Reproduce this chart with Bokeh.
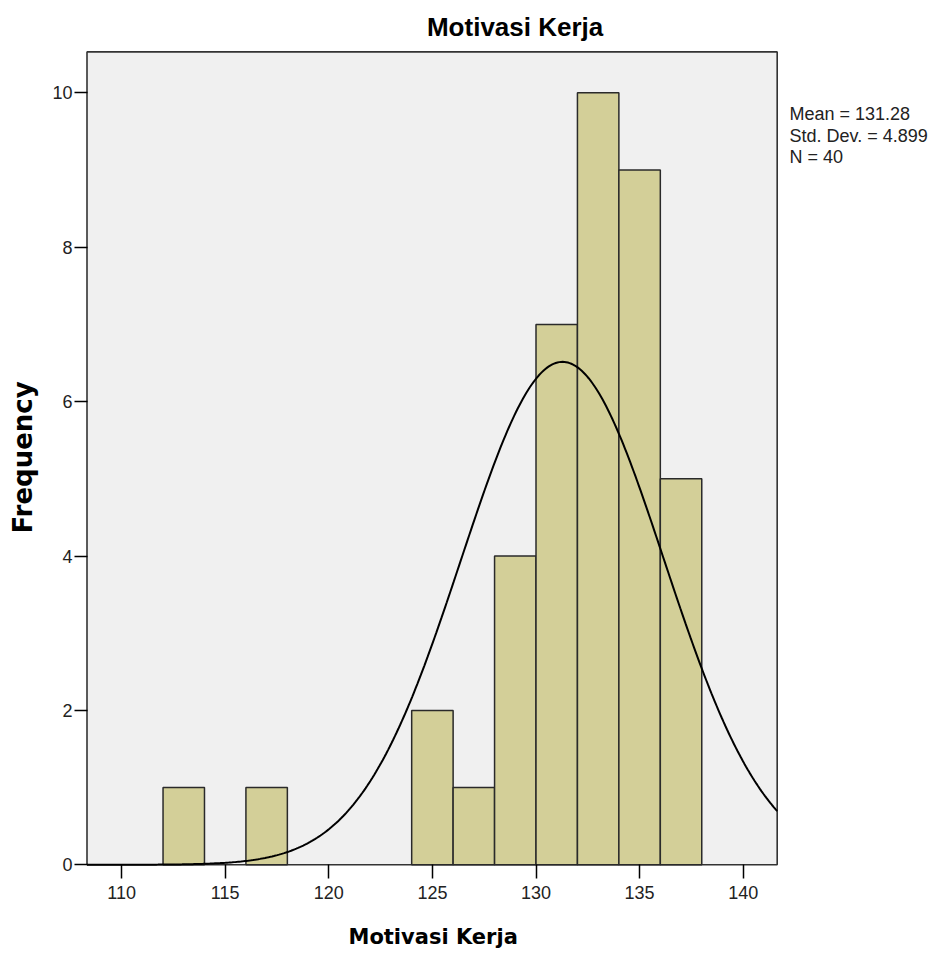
import numpy as np
from bokeh.plotting import figure
from bokeh.models import Range1d, Label, FixedTicker, Title
from bokeh.embed import file_html
from bokeh.resources import INLINE

# ---- data ----
bin_left = [112, 114, 116, 118, 120, 122, 124, 126, 128, 130, 132, 134, 136]
bin_width = 2
counts = [1, 0, 1, 0, 0, 0, 2, 1, 4, 7, 10, 9, 5]
x_ticks = [110, 115, 120, 125, 130, 135, 140]
y_ticks = [0, 2, 4, 6, 8, 10]
mean_val = 131.28
sd_val = 4.899
n_val = 40
title_text = "Motivasi Kerja"
x_label = "Motivasi Kerja"
y_label = "Frequency"
stats_lines = ["Mean = 131.28", "Std. Dev. = 4.899", "N = 40"]

# ---- layout geometry (pixels) ----
X0, X1 = 108.33, 141.64      # plot box extent (data)
Y0, Y1 = 0.0, 10.53
SX, SY = 20.72, 77.2         # px per data unit
FRAME_L, FRAME_W, FRAME_H = 84, 850, 867
BOX_L_PX, BOX_B_PX = 86.5, 864.3

x_start = X0 - (BOX_L_PX - FRAME_L) / SX
x_end = x_start + FRAME_W / SX
y_start = Y0 - (FRAME_H - BOX_B_PX) / SY
y_end = y_start + FRAME_H / SY


def dx(px):
    return x_start + (px - FRAME_L) / SX


def dy(py):
    return y_start + (FRAME_H - py) / SY


p = figure(frame_width=FRAME_W, frame_height=FRAME_H,
           x_range=Range1d(x_start, x_end), y_range=Range1d(y_start, y_end),
           output_backend="svg", toolbar_location=None,
           min_border_left=FRAME_L, min_border_top=0, min_border_right=0,
           min_border_bottom=60)

p.background_fill_color = "white"
p.border_fill_color = "white"
p.outline_line_color = None
p.xgrid.visible = False
p.ygrid.visible = False

# plot box
p.quad(left=[X0], right=[X1], bottom=[Y0], top=[Y1],
       fill_color="#F0F0F0", line_color="#333333", line_width=1.6)

# bars (skip empty bins)
lefts = [l for l, c in zip(bin_left, counts) if c > 0]
rights = [l + bin_width for l, c in zip(bin_left, counts) if c > 0]
tops = [c for c in counts if c > 0]
p.quad(left=lefts, right=rights, bottom=0, top=tops,
       fill_color="#D3CF98", line_color="#2A2A2A", line_width=1.5)

# normal curve from the stated mean, sd and N
xs = np.linspace(X0, X1, 400)
ys = n_val * bin_width / (sd_val * np.sqrt(2 * np.pi)) * np.exp(-0.5 * ((xs - mean_val) / sd_val) ** 2)
p.line(xs, ys, line_color="black", line_width=2)

for ax in (p.xaxis[0], p.yaxis[0]):
    ax.axis_line_color = None
    ax.major_tick_line_color = "black"
    ax.major_tick_line_width = 1.5
    ax.minor_tick_line_color = None
    ax.major_label_text_font = "Liberation Sans"
    ax.major_label_text_font_size = "18px"
    ax.major_label_text_color = "#222222"

p.xaxis.major_tick_in = 3
p.xaxis.major_tick_out = 11
p.yaxis.major_tick_in = 3
p.yaxis.major_tick_out = 10
p.xaxis.ticker = FixedTicker(ticks=x_ticks)
p.yaxis.ticker = FixedTicker(ticks=y_ticks)
p.xaxis.major_label_standoff = 7
p.yaxis.major_label_standoff = 2

# axis titles (side-panel titles, placed under / beside the plot box)
p.add_layout(Title(text=x_label, align="left", offset=264, standoff=4,
                   padding=dict(left=0, right=0, top=19, bottom=0),
                   text_font="DejaVu Sans", text_font_style="bold",
                   text_font_size="21px", text_color="black"), "below")
p.add_layout(Title(text=y_label, align="left", offset=334, standoff=10,
                   padding=dict(left=0, right=0, top=0, bottom=7),
                   text_font="DejaVu Sans", text_font_style="bold",
                   text_font_size="26px", text_color="black"), "left")

# title
p.add_layout(Label(x=dx(514.6), y=dy(26), text=title_text, text_align="center",
                   text_baseline="alphabetic", text_font="Liberation Sans",
                   text_font_style="bold", text_font_size="26px", text_color="black"))

# statistics text
for i, s in enumerate(stats_lines):
    p.add_layout(Label(x=dx(789), y=dy(113.3 + i * 21.7), text=s, text_align="left",
                       text_baseline="alphabetic", text_font="Liberation Sans",
                       text_font_size="18px", text_color="#222222"))

open("out.html", "w").write(file_html(p, INLINE))
